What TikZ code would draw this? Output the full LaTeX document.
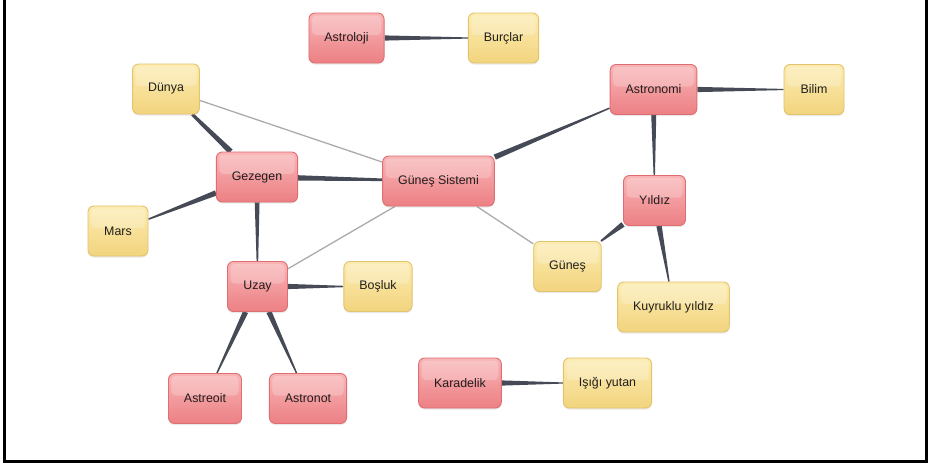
\documentclass[tikz,border=0pt]{standalone}
\usepackage{fontspec}
\setmainfont{Liberation Sans}
\usetikzlibrary{calc,shadows}

\pgfdeclarelayer{paper}
\pgfdeclarelayer{links}
\pgfsetlayers{paper,links,main}

\definecolor{redtop}{HTML}{F9B5B7}
\definecolor{redbot}{HTML}{EC8084}
\definecolor{redline}{HTML}{DF6E73}
\definecolor{yeltop}{HTML}{FCECB2}
\definecolor{yelbot}{HTML}{F2D47E}
\definecolor{yelline}{HTML}{E3C36C}
\definecolor{linkcol}{HTML}{454A56}
\definecolor{faintcol}{HTML}{ABABAB}
\definecolor{textcol}{HTML}{1E1E1E}

\tikzset{
  box/.style={rounded corners=6pt, line width=0.9pt,
    minimum height=50pt, minimum width=60pt, inner xsep=15.5pt,
    font=\fontsize{12.4}{14}\selectfont, text=textcol,
    drop shadow={shadow xshift=0pt, shadow yshift=-1.5pt, opacity=0.18},
    path picture={\fill[white, opacity=0.22, rounded corners=4pt]
      ([xshift=3pt, yshift=-2.5pt]path picture bounding box.north west)
      rectangle ([xshift=-3pt, yshift=3pt]path picture bounding box.east);}},
  topic/.style={box, draw=redline, top color=redtop, bottom color=redbot},
  leaf/.style={box, draw=yelline, top color=yeltop, bottom color=yelbot},
  faint/.style={draw=faintcol, line width=1.3pt},
}

% tapered connector: from, to, half width at "from", half width at "to"
\newcommand\taperlink[4]{%
  \path (#1) -- (#2) coordinate[pos=0] (tlA) coordinate[pos=1] (tlB);
  \fill[linkcol] ($(tlA)!#3!90:(tlB)$) -- ($(tlA)!#3!-90:(tlB)$)
    -- ($(tlB)!#4!90:(tlA)$) -- ($(tlB)!#4!-90:(tlA)$) -- cycle;}

\begin{document}
\begin{tikzpicture}[x=1pt, y=-1pt]
  \useasboundingbox (0,0) rectangle (928,463);
  \begin{pgfonlayer}{paper}
    \fill[white] (0,0) rectangle (928,463);
  \end{pgfonlayer}
  \draw[line width=2.8pt] (4.6,0) -- (4.6,461.6) -- (926.4,461.6) -- (926.4,0);

  % concepts
  \node[topic] (astroloji) at (346.5,38)  {Astroloji};
  \node[leaf]  (burclar)   at (503.5,38)  {Burçlar};
  \node[leaf]  (dunya)     at (166,89)    {Dünya};
  \node[topic] (gezegen)   at (257,177)   {Gezegen};
  \node[leaf]  (mars)      at (118,231)   {Mars};
  \node[topic] (gunsis)    at (438.5,181) {Güneş Sistemi};
  \node[topic] (astronomi) at (653.5,89.5) {Astronomi};
  \node[leaf]  (bilim)     at (814,89.5)  {Bilim};
  \node[topic] (yildiz)    at (654.5,200.5) {Yıldız};
  \node[topic] (uzay)      at (257.5,286.5) {Uzay};
  \node[leaf]  (bosluk)    at (378,286.5) {Boşluk};
  \node[leaf]  (gunes)     at (567.5,266.5) {Güneş};
  \node[leaf]  (kuyruklu)  at (673.5,307) {Kuyruklu yıldız};
  \node[topic] (astreoit)  at (205,398.5) {Astreoit};
  \node[topic] (astronot)  at (308,398.5) {Astronot};
  \node[topic] (karadelik) at (460,383)   {Karadelik};
  \node[leaf]  (isik)      at (607.5,383) {Işığı yutan};

  \begin{pgfonlayer}{links}
    % weak relations
    \draw[faint] (dunya) -- (gunsis);
    \draw[faint] (gunsis) -- (uzay);
    \draw[faint] (gunsis) -- (gunes);
    % strong relations
    \taperlink{astroloji}{burclar}{2.6pt}{0.6pt}
    \taperlink{gezegen}{dunya}{2.8pt}{1.6pt}
    \taperlink{gezegen}{mars}{2.7pt}{0.8pt}
    \taperlink{gezegen}{gunsis}{2.7pt}{1.3pt}
    \taperlink{gezegen}{uzay}{2.4pt}{0.8pt}
    \taperlink{uzay}{bosluk}{2.6pt}{0.7pt}
    \taperlink{uzay}{astreoit}{2.7pt}{0.7pt}
    \taperlink{uzay}{astronot}{2.7pt}{0.7pt}
    \taperlink{gunsis}{astronomi}{2.7pt}{0.7pt}
    \taperlink{astronomi}{bilim}{2.6pt}{0.6pt}
    \taperlink{astronomi}{yildiz}{2.5pt}{0.7pt}
    \taperlink{yildiz}{gunes}{2.7pt}{0.9pt}
    \taperlink{yildiz}{kuyruklu}{2.7pt}{0.7pt}
    \taperlink{karadelik}{isik}{2.6pt}{0.6pt}
  \end{pgfonlayer}
\end{tikzpicture}
\end{document}
